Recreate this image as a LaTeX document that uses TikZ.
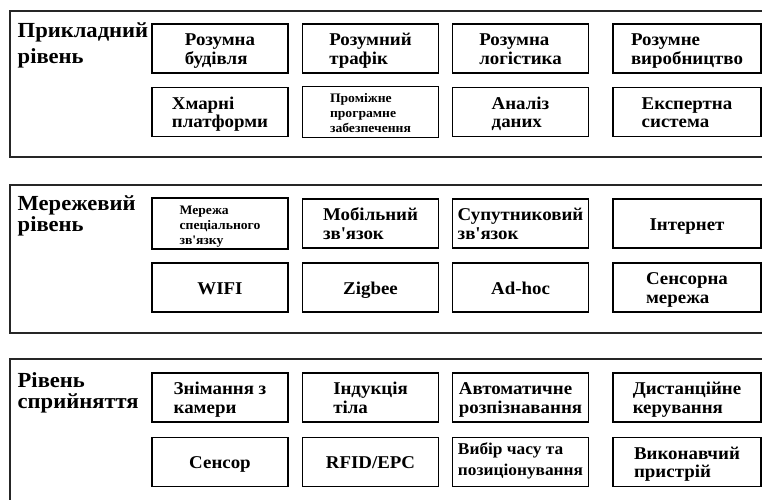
\documentclass[tikz,border=0pt]{standalone}
\usepackage{fontspec}
\setmainfont{Liberation Serif}[FakeStretch=1.05]

\begin{document}
\begin{tikzpicture}[x=1pt,y=-1pt,
  panel/.style={draw=black!85, line width=2.2pt},
  unit/.style={draw, line width=1.7pt, minimum width=136pt, minimum height=49pt,
    inner sep=1pt, align=left, text height=36.6pt, text depth=5pt,
    font=\bfseries\fontsize{18}{18.5}\selectfont},
  wide/.style={unit, minimum width=148pt},
  one/.style={text height=18pt},
  tiny/.style={text height=45pt, text depth=4pt,
    font=\bfseries\fontsize{13}{15}\selectfont},
  lvl/.style={anchor=base west, align=left, inner sep=0pt,
    font=\bfseries\fontsize{21.5}{21}\selectfont}]
\useasboundingbox (0,0) rectangle (762,499);
\clip (0,0) rectangle (762,499);
%layers
\draw [panel] (10,11) rectangle (775,157);
\draw [panel] (10,185) rectangle (775,333);
\draw [panel] (10,359) rectangle (775,520);
\node [lvl] (prykl) at (17.5,63) {Прикладний\\[5pt]рівень};
\node [lvl] (merezh) at (17.5,231.7) {Мережевий\\рівень};
\node [lvl] (spryin) at (17.5,408.5) {Рівень\\сприйняття};
%application layer
\node [unit] (budivlia) at (220,48.5) {Розумна\\будівля};
\node [unit] (trafik) at (370.5,48.5) {Розумний\\трафік};
\node [unit] (logistyka) at (520.5,48.5) {Розумна\\логістика};
\node [wide] (vyrob) at (687,48.5) {Розумне\\виробництво};
\node [unit] (hmara) at (220,112) {Хмарні\\платформи};
\node [unit,tiny] (promizh) at (370.5,112) {Проміжне\\програмне\\забезпечення};
\node [unit] (analiz) at (520.5,112) {Аналіз\\даних};
\node [wide] (ekspert) at (687,112) {Експертна\\система};
%network layer
\node [unit,tiny] (speczv) at (220,223.5) {Мережа\\спеціального\\зв\textquotesingle язку};
\node [unit] (mobzv) at (370.5,223.5) {Мобільний\\зв\textquotesingle язок};
\node [unit] (suputzv) at (520.5,223.5) {Супутниковий\\зв\textquotesingle язок};
\node [wide,one] (internet) at (687,223.5) {Інтернет};
\node [unit,one] (wifi) at (220,287.5) {WIFI};
\node [unit,one] (zigbee) at (370.5,287.5) {Zigbee};
\node [unit,one] (adhoc) at (520.5,287.5) {Ad-hoc};
\node [wide] (sensmer) at (687,287.5) {Сенсорна\\мережа};
%perception layer
\node [unit] (kamera) at (220,397.5) {Знімання з\\камери};
\node [unit] (tilo) at (370.5,397.5) {Індукція\\тіла};
\node [unit] (rozpiz) at (520.5,397.5) {Автоматичне\\розпізнавання};
\node [wide] (dystan) at (687,397.5) {Дистанційне\\керування};
\node [unit,one] (sensor) at (220,462) {Сенсор};
\node [unit,one] (rfid) at (370.5,462) {RFID/EPC};
\node [unit,text height=31pt,font=\bfseries\fontsize{16.5}{21}\selectfont] (pozyc) at (520.5,462) {Вибір часу та\\позиціонування};
\node [wide] (vykon) at (687,462) {Виконавчий\\пристрій};
\end{tikzpicture}
\end{document}
